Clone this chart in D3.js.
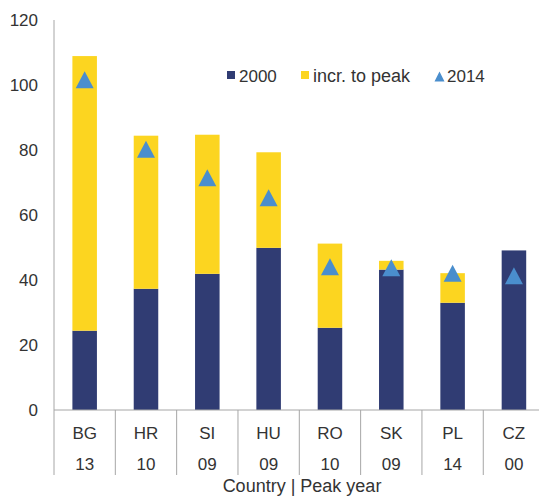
<!DOCTYPE html>
<meta charset="utf-8">
<html>
<head>
<style>
body { margin: 0; background: #fff; }
svg text { font-family: "Liberation Sans", Arial, Helvetica, sans-serif; fill: #333; }
</style>
</head>
<body>
<div id="my_dataviz"></div>
<script src="https://d3js.org/d3.v7.min.js"></script>
<script>

// data
var countries = ["BG", "HR", "SI", "HU", "RO", "SK", "PL", "CZ"];
var peakYears = ["13", "10", "09", "09", "10", "09", "14", "00"];
var values2000 = [24.4, 37.3, 41.9, 49.9, 25.3, 43.2, 33.0, 49.1];
var incrToPeak = [84.5, 47.1, 42.8, 29.4, 25.9, 2.7, 9.1, 0];
var values2014 = [101.6, 80.2, 71.5, 65.3, 44.1, 43.8, 42.1, 41.3];
var yTicks = [0, 20, 40, 60, 80, 100, 120];

var navy = "#303c73", yellow = "#fcd520", blue = "#4a8ecd", axisGrey = "#a6a6a6";

// plot box (the right end runs past the window, as in the original)
var W = 539, H = 496;
var plotLeft = 54, plotBottom = 410, plotTop = 20, plotRight = 544.6;

var svg = d3.select("#my_dataviz")
  .append("svg")
    .attr("width", W)
    .attr("height", H);

var x = d3.scaleBand()
  .domain(countries)
  .range([plotLeft, plotRight])
  .paddingInner(0.6)
  .paddingOuter(0.3);

var y = d3.scaleLinear()
  .domain([0, 120])
  .range([plotBottom, plotTop]);

// stacked table
var table = countries.map(function(c, i) {
  return { country: c, v2000: values2000[i], incr: incrToPeak[i] };
});
var stacked = d3.stack().keys(["v2000", "incr"])(table);
var colors = { v2000: navy, incr: yellow };

svg.append("g")
  .selectAll("g")
  .data(stacked)
  .enter()
  .append("g")
    .attr("fill", function(d) { return colors[d.key]; })
  .selectAll("rect")
  .data(function(d) { return d; })
  .enter()
  .append("rect")
    .attr("x", function(d) { return x(d.data.country); })
    .attr("width", x.bandwidth())
    .attr("y", function(d) { return y(d[1]); })
    .attr("height", function(d) { return y(d[0]) - y(d[1]); });

// 2014 triangles
var tri = "M0,-8.5L9,8.5L-9,8.5Z";
svg.append("g")
  .selectAll("path")
  .data(values2014)
  .enter()
  .append("path")
    .attr("d", tri)
    .attr("fill", blue)
    .attr("transform", function(d, i) {
      return "translate(" + (x(countries[i]) + x.bandwidth() / 2) + "," + y(d) + ")";
    });

// y axis: line and labels, no ticks
svg.append("line")
  .attr("x1", plotLeft).attr("x2", plotLeft)
  .attr("y1", plotTop).attr("y2", 475)
  .attr("stroke", axisGrey);

svg.append("g")
  .selectAll("text")
  .data(yTicks)
  .enter()
  .append("text")
    .attr("x", 38)
    .attr("y", function(d) { return y(d); })
    .attr("dy", "0.36em")
    .attr("text-anchor", "end")
    .style("font-size", "17px")
    .text(function(d) { return d; });

// x axis line + category separators
svg.append("line")
  .attr("x1", plotLeft).attr("x2", W)
  .attr("y1", plotBottom).attr("y2", plotBottom)
  .attr("stroke", axisGrey);

var step = x.step();
svg.append("g")
  .selectAll("line")
  .data(countries)
  .enter()
  .append("line")
    .attr("x1", function(d) { return x(d) + x.bandwidth() / 2 + step / 2; })
    .attr("x2", function(d) { return x(d) + x.bandwidth() / 2 + step / 2; })
    .attr("y1", plotBottom)
    .attr("y2", 475)
    .attr("stroke", axisGrey);

svg.append("g")
  .selectAll("text")
  .data(countries)
  .enter()
  .append("text")
    .attr("x", function(d) { return x(d) + x.bandwidth() / 2; })
    .attr("y", 439)
    .attr("text-anchor", "middle")
    .style("font-size", "17px")
    .text(function(d) { return d; });

svg.append("g")
  .selectAll("text")
  .data(peakYears)
  .enter()
  .append("text")
    .attr("x", function(d, i) { return x(countries[i]) + x.bandwidth() / 2; })
    .attr("y", 470)
    .attr("text-anchor", "middle")
    .style("font-size", "17px")
    .text(function(d) { return d; });

svg.append("text")
  .attr("x", 302)
  .attr("y", 492)
  .attr("text-anchor", "middle")
  .style("font-size", "18px")
  .text("Country | Peak year");

// legend
var legend = svg.append("g");
legend.append("rect").attr("x", 227).attr("y", 71).attr("width", 8).attr("height", 8).attr("fill", navy);
legend.append("text").attr("x", 239).attr("y", 82).style("font-size", "17px").text("2000");
legend.append("rect").attr("x", 301).attr("y", 71).attr("width", 8).attr("height", 8).attr("fill", yellow);
legend.append("text").attr("x", 313).attr("y", 82).style("font-size", "18px").text("incr. to peak");
legend.append("path").attr("d", "M0,-5L5,5L-5,5Z").attr("fill", blue).attr("transform", "translate(439.5,76.5)");
legend.append("text").attr("x", 447).attr("y", 82).style("font-size", "17px").text("2014");

</script>
</body>
</html>
